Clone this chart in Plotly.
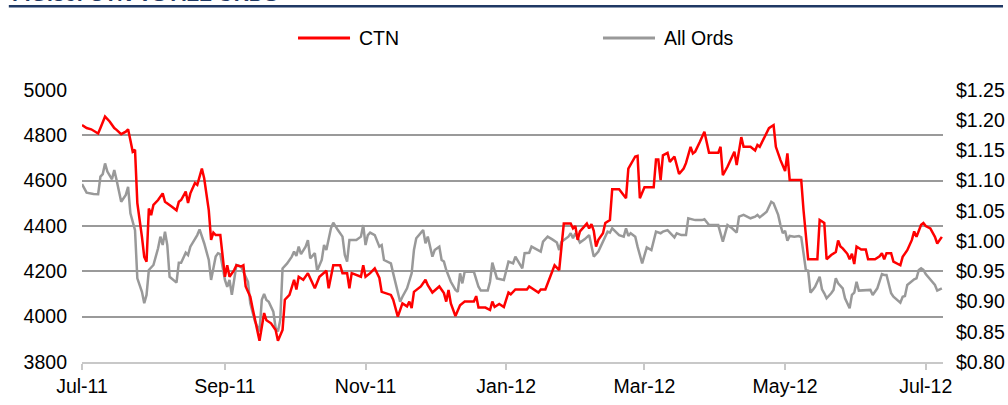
import pandas as pd
import plotly.graph_objects as go

# Chart data
# days counted from 1 Jul 2011
start_date = pd.Timestamp("2011-07-01")

ctn_days = [0, 2, 4, 6, 7, 8, 10, 12, 14, 15, 17, 19, 20, 21, 22, 23, 24, 26, 27, 28,
            29, 30, 31, 33, 35, 36, 38, 39, 41, 42, 43, 45, 46, 47, 49, 50, 52, 53, 55, 56,
            57, 58, 60, 62, 63, 64, 66, 67, 69, 70, 71, 73, 74, 75, 76, 77, 79, 80, 82, 84,
            85, 87, 88, 90, 92, 93, 94, 96, 98, 100, 101, 103, 105, 106, 107, 109, 112, 113, 115, 116,
            117, 119, 121, 122, 123, 125, 127, 129, 130, 134, 135, 137, 139, 141, 142, 143, 144, 147, 149, 150,
            152, 155, 157, 158, 159, 160, 162, 164, 166, 170, 171, 172, 175, 177, 178, 179, 181, 183, 185, 186,
            188, 193, 194, 198, 199, 201, 204, 205, 207, 209, 212, 213, 214, 215, 216, 218, 219, 220, 221, 222,
            223, 224, 226, 227, 229, 230, 233, 236, 237, 240, 241, 242, 244, 248, 249, 250, 251, 252, 254, 255,
            257, 259, 261, 262, 264, 265, 266, 268, 270, 272, 276, 277, 278, 280, 283, 284, 286, 287, 290, 292,
            293, 294, 297, 298, 300, 301, 303, 305, 306, 307, 312, 313, 315, 319, 320, 322, 323, 325, 327, 328,
            329, 330, 332, 333, 334, 335, 336, 338, 340, 341, 344, 346, 347, 348, 349, 351, 352, 355, 356, 358,
            360, 361, 362, 364, 365, 366, 368, 370, 371, 373]
ctn_price = [1.192, 1.187, 1.185, 1.180, 1.178, 1.187, 1.206, 1.198, 1.187, 1.184, 1.177, 1.181, 1.185, 1.167, 1.148, 1.151, 1.063, 1.007, 0.974, 0.966,
             1.054, 1.043, 1.060, 1.068, 1.079, 1.065, 1.060, 1.057, 1.051, 1.065, 1.068, 1.082, 1.063, 1.079, 1.096, 1.093, 1.120, 1.104, 1.051, 1.002,
             1.014, 1.010, 1.010, 0.941, 0.960, 0.941, 0.952, 0.960, 0.958, 0.960, 0.925, 0.908, 0.889, 0.869, 0.853, 0.835, 0.881, 0.869, 0.864, 0.853,
             0.835, 0.853, 0.903, 0.911, 0.936, 0.920, 0.941, 0.936, 0.947, 0.930, 0.922, 0.941, 0.947, 0.951, 0.922, 0.960, 0.960, 0.947, 0.947, 0.922,
             0.947, 0.944, 0.941, 0.960, 0.941, 0.947, 0.955, 0.939, 0.916, 0.911, 0.903, 0.875, 0.897, 0.892, 0.900, 0.889, 0.916, 0.925, 0.936, 0.927,
             0.915, 0.925, 0.914, 0.900, 0.919, 0.897, 0.876, 0.894, 0.900, 0.900, 0.909, 0.890, 0.890, 0.886, 0.900, 0.891, 0.896, 0.891, 0.915, 0.912,
             0.920, 0.920, 0.925, 0.915, 0.920, 0.920, 0.952, 0.960, 0.952, 1.029, 1.029, 1.021, 1.025, 1.002, 1.016, 1.024, 1.029, 1.021, 1.028, 1.017,
             0.991, 1.002, 1.013, 1.030, 1.035, 1.086, 1.086, 1.071, 1.120, 1.140, 1.141, 1.071, 1.089, 1.089, 1.135, 1.135, 1.101, 1.142, 1.146, 1.131,
             1.140, 1.111, 1.120, 1.129, 1.156, 1.145, 1.148, 1.164, 1.181, 1.146, 1.146, 1.156, 1.109, 1.123, 1.148, 1.126, 1.172, 1.156, 1.156, 1.150,
             1.159, 1.156, 1.178, 1.187, 1.192, 1.156, 1.134, 1.116, 1.145, 1.101, 1.101, 1.051, 0.970, 0.970, 1.035, 1.030, 0.970, 0.977, 0.982, 1.001,
             0.991, 0.988, 0.979, 0.970, 0.979, 0.962, 0.991, 0.986, 0.986, 0.970, 0.970, 0.975, 0.980, 0.970, 0.980, 0.980, 0.966, 0.960, 0.974, 0.985,
             1.002, 1.016, 1.007, 1.027, 1.030, 1.025, 1.021, 1.007, 0.996, 1.007]

ords_days = [0, 2, 5, 7, 8, 9, 10, 11, 13, 14, 15, 17, 19, 20, 21, 23, 24, 26, 27, 28,
             29, 31, 33, 34, 35, 36, 37, 38, 41, 42, 43, 45, 46, 47, 50, 51, 53, 55, 56, 58,
             59, 60, 62, 63, 64, 65, 67, 69, 71, 72, 73, 75, 77, 78, 79, 80, 81, 83, 84, 85,
             86, 87, 89, 91, 92, 93, 94, 95, 97, 98, 99, 101, 102, 104, 105, 106, 108, 109, 111, 113,
             114, 115, 116, 119, 121, 122, 123, 124, 125, 127, 129, 130, 131, 134, 135, 137, 138, 139, 141, 143,
             144, 145, 148, 149, 150, 152, 153, 155, 156, 157, 158, 160, 162, 163, 164, 165, 166, 170, 172, 173,
             176, 177, 178, 180, 183, 185, 187, 188, 190, 191, 192, 194, 195, 197, 199, 200, 202, 204, 206, 207,
             208, 211, 212, 213, 214, 216, 218, 220, 221, 222, 224, 225, 226, 228, 229, 230, 233, 235, 236, 237,
             238, 240, 241, 243, 245, 247, 249, 251, 252, 254, 257, 258, 260, 262, 263, 266, 269, 270, 272, 276,
             278, 280, 282, 284, 285, 287, 290, 292, 293, 294, 297, 298, 299, 300, 302, 303, 304, 305, 306, 307,
             309, 311, 312, 313, 314, 315, 316, 317, 318, 320, 321, 322, 323, 325, 326, 327, 328, 330, 331, 333,
             334, 335, 336, 337, 339, 342, 343, 345, 347, 348, 349, 351, 352, 355, 356, 357, 358, 361, 362, 363,
             364, 365, 366, 368, 370, 371, 373]
ords_value = [4585, 4547, 4541, 4540, 4618, 4629, 4676, 4640, 4606, 4647, 4603, 4507, 4537, 4573, 4456, 4382, 4169, 4110, 4059, 4096,
              4206, 4228, 4302, 4353, 4316, 4375, 4316, 4176, 4150, 4238, 4238, 4282, 4272, 4309, 4360, 4385, 4324, 4250, 4162, 4265,
              4280, 4276, 4162, 4132, 4162, 4096, 4228, 4220, 4176, 4154, 4059, 3980, 3935, 4074, 4100, 4074, 4066, 4022, 3950, 3935,
              3985, 4213, 4235, 4265, 4287, 4268, 4309, 4276, 4309, 4338, 4257, 4280, 4203, 4250, 4316, 4294, 4390, 4415, 4382, 4353,
              4272, 4243, 4338, 4338, 4353, 4404, 4316, 4360, 4371, 4360, 4309, 4316, 4250, 4235, 4191, 4110, 4066, 4088, 4125, 4191,
              4294, 4346, 4382, 4324, 4353, 4265, 4294, 4309, 4250, 4243, 4206, 4154, 4118, 4110, 4191, 4147, 4198, 4198, 4132, 4115,
              4115, 4154, 4238, 4169, 4162, 4243, 4235, 4265, 4228, 4213, 4280, 4282, 4309, 4297, 4287, 4331, 4353, 4341, 4327, 4294,
              4331, 4353, 4368, 4346, 4368, 4327, 4341, 4360, 4309, 4265, 4287, 4309, 4338, 4375, 4371, 4390, 4360, 4353, 4390, 4356,
              4368, 4353, 4309, 4235, 4306, 4294, 4375, 4368, 4375, 4382, 4350, 4368, 4360, 4360, 4434, 4426, 4426, 4430, 4404, 4404,
              4331, 4404, 4390, 4371, 4441, 4449, 4434, 4441, 4449, 4438, 4463, 4485, 4507, 4500, 4449, 4404, 4368, 4379, 4335, 4356,
              4353, 4356, 4350, 4280, 4206, 4203, 4106, 4118, 4132, 4176, 4121, 4103, 4081, 4103, 4118, 4169, 4147, 4125, 4081, 4037,
              4096, 4106, 4154, 4115, 4115, 4118, 4096, 4125, 4188, 4184, 4184, 4103, 4088, 4062, 4088, 4091, 4140, 4165, 4169, 4206,
              4213, 4206, 4188, 4165, 4140, 4115, 4125]

ctn_dates = start_date + pd.to_timedelta(ctn_days, unit="D")
ords_dates = start_date + pd.to_timedelta(ords_days, unit="D")

FONT = "Arial, Liberation Sans, sans-serif"
RED = "#FF0000"
GREY = "#999999"
NAVY = "#1F3864"

fig = go.Figure()

# All Ords on the left axis (drawn first, so red sits on top)
fig.add_trace(go.Scatter(
    x=ords_dates, y=ords_value, name="All Ords", mode="lines",
    line=dict(color=GREY, width=2.5), yaxis="y"
))

# CTN share price on the right axis
fig.add_trace(go.Scatter(
    x=ctn_dates, y=ctn_price, name="CTN", mode="lines",
    line=dict(color=RED, width=2.5), yaxis="y2"
))

fig.update_layout(
    width=1008, height=405,
    margin=dict(l=82, r=65, t=90, b=43),
    paper_bgcolor="white", plot_bgcolor="white",
    font=dict(family=FONT, size=19.5, color="black"),
    showlegend=False,
    xaxis=dict(
        type="date",
        range=[start_date, start_date + pd.Timedelta(days=373.5)],
        tick0="2011-07-01", dtick="M2", tickformat="%b-%y",
        showgrid=False, showline=True, linecolor="#c8c8c8", linewidth=2,
        ticks="outside", ticklen=6, tickwidth=2, tickcolor="#c8c8c8",
        zeroline=False, automargin=False
    ),
    yaxis=dict(
        range=[3800, 5000], dtick=200, tick0=3800,
        showgrid=True, gridcolor="#9a9a9a", gridwidth=2,
        showline=False, zeroline=False, ticks="",
        ticklabelstandoff=14, automargin=False
    ),
    yaxis2=dict(
        overlaying="y", side="right",
        range=[0.80, 1.25], dtick=0.05, tick0=0.80,
        tickprefix="$", tickformat=".2f",
        showgrid=False, showline=False, zeroline=False, ticks="",
        ticklabelstandoff=12, automargin=False
    ),
)

# Legend drawn by hand (long sample lines, wide gap like the original)
legend_items = [("CTN", RED, 0.2509, 0.3113), ("All Ords", GREY, 0.6051, 0.6655)]
for label, colour, x0, x1 in legend_items:
    fig.add_shape(type="line", xref="paper", yref="paper",
                  x0=x0, x1=x1, y0=1.191, y1=1.191,
                  line=dict(color=colour, width=3))
    fig.add_annotation(text=label, xref="paper", yref="paper",
                       x=x1 + 0.008, y=1.191, xanchor="left", yanchor="middle",
                       showarrow=False, font=dict(family=FONT, size=19.5, color="black"))

# Cropped figure heading and its navy rule
fig.add_annotation(
    text="<b>FIG.36: CTN VS ALL ORDS</b>", xref="paper", yref="paper",
    x=-0.0836, y=1.305, xanchor="left", yanchor="bottom", showarrow=False,
    font=dict(family=FONT, size=21, color=NAVY)
)
fig.add_shape(
    type="line", xref="paper", yref="paper",
    x0=-0.085, x1=1.0697, y0=1.308, y1=1.308,
    line=dict(color=NAVY, width=2.5)
)

# drop the page's default body margin so the figure sits at the window corner
fig.write_html("out.html", config={"displayModeBar": False},
               post_script="document.body.style.margin='0';")
